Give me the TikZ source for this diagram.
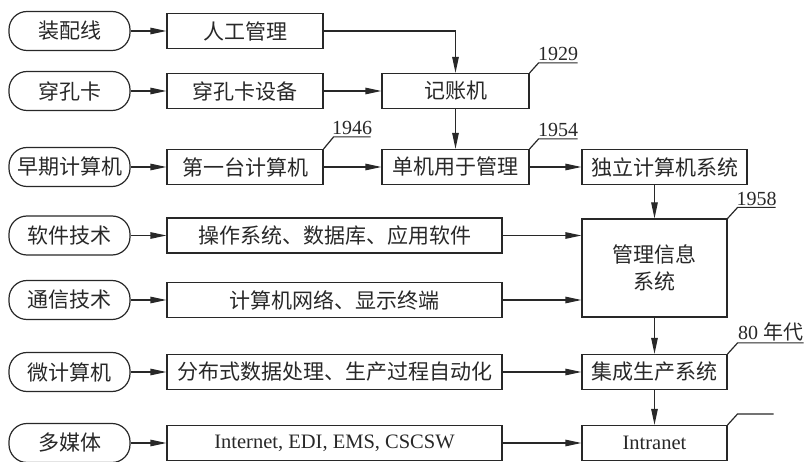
\documentclass[tikz,border=0pt]{standalone}
\usepackage{fontspec}
\setmainfont{Liberation Serif}
\newfontfamily\cjk{Noto Sans CJK SC}
\usetikzlibrary{arrows.meta}
\definecolor{ink}{RGB}{40,40,40}
\begin{document}
\begin{tikzpicture}[x=1pt,y=-1pt,ink,line width=1.2pt,
    >={Triangle[length=16pt,width=6.5pt]},
    src/.style={draw,rectangle,rounded corners=18pt,minimum width=121pt,minimum height=39pt,inner sep=0pt,font=\fontsize{21}{27}\selectfont\cjk},
    stage/.style={draw,rectangle,minimum height=35pt,inner sep=0pt,font=\fontsize{21}{27}\selectfont\cjk},
    wide/.style={stage,minimum width=335pt},
    latin/.style={font=\fontsize{20.5}{25}\selectfont},
    year/.style={midway,above,inner sep=1.5pt,font=\fontsize{20}{24}\selectfont}]
            \useasboundingbox (0,0) rectangle (806,462);
            % sources
            \node[src] (line) at (69.5,31) {装配线};
            \node[src] (card) at (69.5,91) {穿孔卡};
            \node[src] (early) at (69.5,167) {早期计算机};
            \node[src] (soft) at (69.5,235.5) {软件技术};
            \node[src] (comm) at (69.5,300) {通信技术};
            \node[src] (micro) at (69.5,372) {微计算机};
            \node[src] (media) at (69.5,443) {多媒体};
            % stages
            \node[stage,minimum width=156pt] (manual) at (245,31) {人工管理};
            \node[stage,minimum width=156pt] (punch) at (245,91) {穿孔卡设备};
            \node[stage,minimum width=156pt] (first) at (245,167) {第一台计算机};
            \node[stage,minimum width=147pt] (acct) at (455.5,91) {记账机};
            \node[stage,minimum width=147pt] (single) at (455.5,167) {单机用于管理};
            \node[stage,minimum width=165pt] (alone) at (664.5,167) {独立计算机系统};
            \node[wide] (os) at (334.5,235.5) {操作系统、数据库、应用软件};
            \node[wide] (net) at (334.5,300) {计算机网络、显示终端};
            \node[wide] (dist) at (334.5,372) {分布式数据处理、生产过程自动化};
            \node[wide,latin] (inet) at (334.5,443) {Internet, EDI, EMS, CSCSW};
            \node[stage,minimum width=145pt,minimum height=98pt,align=center] (mis) at (654.5,268) {管理信息\\系统};
            \node[stage,minimum width=145pt] (ims) at (654.5,372) {集成生产系统};
            \node[stage,minimum width=145pt,latin] (intra) at (654.5,443) {Intranet};
            % arrows
            \draw[->] (line) -- (manual);
            \draw[->] (card) -- (punch);
            \draw[->] (early) -- (first);
            \draw[->] (soft) -- (os);
            \draw[->] (comm) -- (net);
            \draw[->] (micro) -- (dist);
            \draw[->] (media) -- (inet);
            \draw[->] (manual) -| (acct);
            \draw[->] (punch) -- (acct);
            \draw[->] (acct) -- (single);
            \draw[->] (first) -- (single);
            \draw[->] (single) -- (alone);
            \draw[->] (alone.south -| mis.north) -- (mis.north);
            \draw[->] (os) -- (os -| mis.west);
            \draw[->] (net) -- (net -| mis.west);
            \draw[->] (mis) -- (ims);
            \draw[->] (dist) -- (ims);
            \draw[->] (ims) -- (intra);
            \draw[->] (inet) -- (intra);
            % years
            \draw (first.north east) -- ++(10,-12) -- ++(37,0) node[year] (y1946) {1946};
            \draw (acct.north east) -- ++(9,-10) -- ++(39,0) node[year] (y1929) {1929};
            \draw (single.north east) -- ++(9,-10) -- ++(39,0) node[year] (y1954) {1954};
            \draw (mis.north east) -- ++(10,-11) -- ++(38,0) node[year] (y1958) {1958};
            \draw (ims.north east) -- ++(10,-11) -- ++(66,0) node[year] (y80) {80 {\cjk 年代}};
            \draw (intra.north east) -- ++(10,-11) -- ++(36,0);
        \end{tikzpicture}
\end{document}
